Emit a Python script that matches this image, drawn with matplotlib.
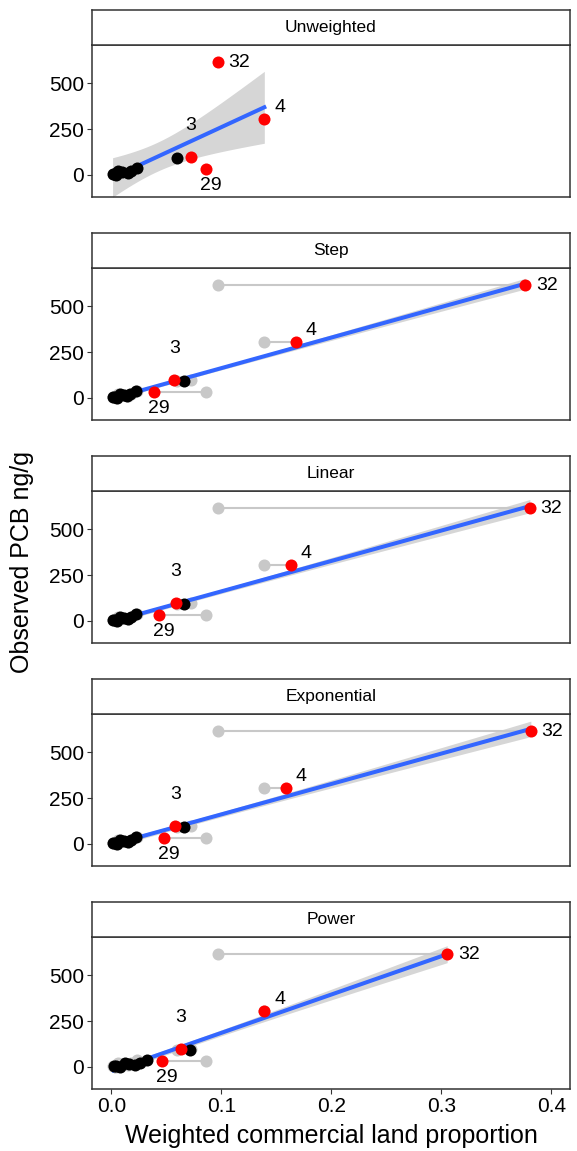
import numpy as np
import matplotlib
matplotlib.use('Agg')
import matplotlib.pyplot as plt

plt.rcParams['font.family'] = ['Liberation Sans', 'DejaVu Sans']

# ── data ──────────────────────────────────────────────────────────────────────
panels = ['Unweighted', 'Step', 'Linear', 'Exponential', 'Power']

# labelled sites (drawn red)
site_ids = ['32', '4', '3', '29']
site_pcb = [615, 305, 100, 32]
site_x_unweighted  = [0.0965, 0.139, 0.072, 0.0862]
site_x_step        = [0.3765, 0.168, 0.0571, 0.0386]
site_x_linear      = [0.3805, 0.163, 0.0586, 0.0432]
site_x_exponential = [0.3814, 0.1586, 0.058, 0.0477]
site_x_power       = [0.3053, 0.139, 0.0629, 0.0462]

# remaining sites (drawn black)
other_pcb = [93, 3, 8, 1, 22, 14, 12, 20, 40]
other_x_unweighted  = [0.0593, 0.001, 0.002, 0.004, 0.006, 0.010, 0.015, 0.018, 0.023]
other_x_step        = [0.0662, 0.001, 0.003, 0.005, 0.008, 0.011, 0.014, 0.017, 0.022]
other_x_linear      = [0.0660, 0.001, 0.003, 0.005, 0.008, 0.011, 0.015, 0.018, 0.022]
other_x_exponential = [0.0659, 0.001, 0.003, 0.005, 0.008, 0.011, 0.015, 0.018, 0.022]
other_x_power       = [0.0714, 0.002, 0.004, 0.008, 0.012, 0.016, 0.021, 0.026, 0.032]

y_ticks = [0, 250, 500]
x_ticks = [0.0, 0.1, 0.2, 0.3, 0.4]

site_x = dict(zip(panels, [site_x_unweighted, site_x_step, site_x_linear,
                           site_x_exponential, site_x_power]))
other_x = dict(zip(panels, [other_x_unweighted, other_x_step, other_x_linear,
                            other_x_exponential, other_x_power]))

# label nudges in points
label_offset = {'32': (15.5, 0), '4': (11, 8), '3': (0, 22.5), '29': (3.5, -11.5)}

T975_DF11 = 2.201   # t quantile for 95% CI, n - 2 = 11

W, H = 577, 1151
fig = plt.figure(figsize=(W / 100, H / 100), dpi=100)

LEFT, RIGHT = 91.7, 570
EDGE = '#333333'


def fx(px):
    return px / W


def fy(py):
    return 1 - py / H


for i, name in enumerate(panels):
    off = 223 * i
    strip_top, strip_bot, plot_bot = 10 + off, 45 + off, 197 + off

    ax = fig.add_axes([fx(LEFT), fy(plot_bot), fx(RIGHT - LEFT), (plot_bot - strip_bot) / H])
    sx = fig.add_axes([fx(LEFT), fy(strip_bot), fx(RIGHT - LEFT), (strip_bot - strip_top) / H])

    # strip
    sx.set_xticks([]); sx.set_yticks([])
    for sp in sx.spines.values():
        sp.set_color(EDGE); sp.set_linewidth(1.1)
    sx.text(0.5, 0.5, name, ha='center', va='center', fontsize=12.5, transform=sx.transAxes)

    xs_all = np.array(site_x[name] + other_x[name])
    ys_all = np.array(site_pcb + other_pcb, dtype=float)

    # linear fit with 95% band
    n = len(xs_all)
    slope, icpt = np.polyfit(xs_all, ys_all, 1)
    resid = ys_all - (slope * xs_all + icpt)
    s = np.sqrt(np.sum(resid ** 2) / (n - 2))
    xm = xs_all.mean()
    sxx = np.sum((xs_all - xm) ** 2)
    xg = np.linspace(xs_all.min(), xs_all.max(), 100)
    yg = slope * xg + icpt
    half = T975_DF11 * s * np.sqrt(1 / n + (xg - xm) ** 2 / sxx)
    ax.fill_between(xg, yg - half, yg + half, color='#999999', alpha=0.4, lw=0, zorder=1)

    # moved-from positions (unweighted) in grey
    if name != 'Unweighted':
        ux = site_x_unweighted + other_x_unweighted
        uy = site_pcb + other_pcb
        wx = site_x[name] + other_x[name]
        for x0, x1, yv in zip(ux, wx, uy):
            ax.plot([x0, x1], [yv, yv], color='#C8C8C8', lw=1.5, zorder=2, solid_capstyle='butt')
        ax.scatter(ux, uy, s=75, color='#C8C8C8', lw=0, zorder=2)

    ax.plot(xg, yg, color='#3366FF', lw=2.9, zorder=3)
    ax.scatter(other_x[name], other_pcb, s=75, color='black', lw=0, zorder=4)
    ax.scatter(site_x[name], site_pcb, s=75, color='#FF0000', lw=0, zorder=5)

    for sid, xv, yv in zip(site_ids, site_x[name], site_pcb):
        ax.annotate(sid, (xv, yv), xytext=label_offset[sid], textcoords='offset points',
                    ha='center', va='center', fontsize=14, zorder=6)

    ax.set_xlim(-0.018, 0.417)
    ax.set_ylim(-120, 709)
    ax.set_yticks(y_ticks)
    ax.set_yticklabels([str(v) for v in y_ticks], fontsize=15)
    ax.tick_params(axis='y', length=3.5, width=0.8, color=EDGE, pad=2)
    for sp in ax.spines.values():
        sp.set_color(EDGE); sp.set_linewidth(1.1)

    if i == len(panels) - 1:
        ax.set_xticks(x_ticks)
        ax.set_xticklabels([f'{v:.1f}' for v in x_ticks], fontsize=15)
        ax.tick_params(axis='x', length=3.5, width=0.8, color=EDGE, pad=2)
    else:
        ax.set_xticks([])

fig.text(fx(331), fy(1136), 'Weighted commercial land proportion', ha='center', va='center', fontsize=18)
fig.text(fx(22), fy(562), 'Observed PCB ng/g', ha='center', va='center', rotation=90, fontsize=18)

fig.savefig('out.png', dpi=100)
plt.close(fig)
